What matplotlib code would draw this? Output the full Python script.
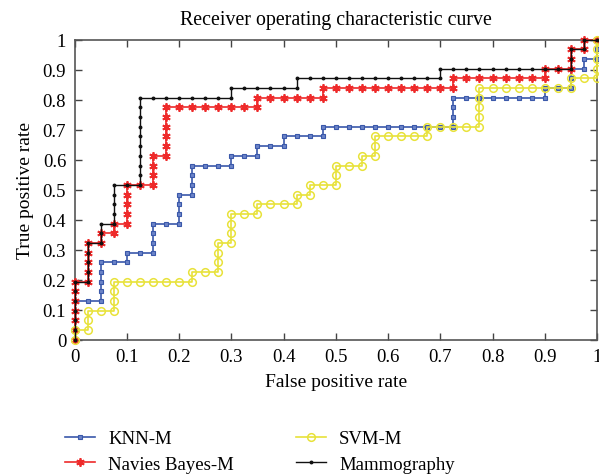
import matplotlib
matplotlib.use("Agg")
import matplotlib.pyplot as plt

# ROC points as (false-positive count, true-positive count); 40 negatives, 31 positives
N_NEG = 40
N_POS = 31

knn_pts = [(0,0),(0,1),(0,2),(0,3),(0,4),
           (1,4),(2,4),(2,5),(2,6),(2,7),(2,8),
           (3,8),(4,8),(4,9),
           (5,9),(6,9),(6,10),(6,11),(6,12),
           (7,12),(8,12),(8,13),(8,14),(8,15),
           (9,15),(9,16),(9,17),(9,18),
           (10,18),(11,18),(12,18),(12,19),
           (13,19),(14,19),(14,20),
           (15,20),(16,20),(16,21),
           (17,21),(18,21),(19,21),(19,22),
           (20,22),(21,22),(22,22),(23,22),(24,22),(25,22),(26,22),(27,22),(28,22),(29,22),
           (29,23),(29,24),(29,25),
           (30,25),(31,25),(32,25),(33,25),(34,25),(35,25),(36,25),
           (36,26),(37,26),(38,26),(38,27),(38,28),
           (39,28),(39,29),(40,29),(40,30),(40,31)]

nb_pts = [(0,0),(0,1),(0,2),(0,3),(0,4),(0,5),(0,6),
          (1,6),(1,7),(1,8),(1,9),(1,10),
          (2,10),(2,11),
          (3,11),(3,12),
          (4,12),(4,13),(4,14),(4,15),(4,16),
          (5,16),(6,16),(6,17),(6,18),(6,19),
          (7,19),(7,20),(7,21),(7,22),(7,23),(7,24),
          (8,24),(9,24),(10,24),(11,24),(12,24),(13,24),(14,24),(14,25),
          (15,25),(16,25),(17,25),(18,25),(19,25),(19,26),
          (20,26),(21,26),(22,26),(23,26),(24,26),(25,26),(26,26),(27,26),(28,26),(29,26),(29,27),
          (30,27),(31,27),(32,27),(33,27),(34,27),(35,27),(36,27),(36,28),
          (37,28),(38,28),(38,29),(38,30),
          (39,30),(39,31),(40,31)]

svm_pts = [(0,0),(0,1),
           (1,1),(1,2),(1,3),
           (2,3),(3,3),(3,4),(3,5),(3,6),
           (4,6),(5,6),(6,6),(7,6),(8,6),(9,6),(9,7),
           (10,7),(11,7),(11,8),(11,9),(11,10),
           (12,10),(12,11),(12,12),(12,13),
           (13,13),(14,13),(14,14),
           (15,14),(16,14),(17,14),(17,15),
           (18,15),(18,16),
           (19,16),(20,16),(20,17),(20,18),
           (21,18),(22,18),(22,19),
           (23,19),(23,20),(23,21),
           (24,21),(25,21),(26,21),(27,21),(27,22),
           (28,22),(29,22),(30,22),(31,22),(31,23),(31,24),(31,25),(31,26),
           (32,26),(33,26),(34,26),(35,26),(36,26),(37,26),(38,26),(38,27),
           (39,27),(40,27),(40,28),(40,29),(40,30),(40,31)]

mammo_pts = [(0,0),(0,1),(0,2),(0,3),(0,4),(0,5),(0,6),
             (1,6),(1,7),(1,8),(1,9),(1,10),
             (2,10),(2,11),(2,12),
             (3,12),(3,13),(3,14),(3,15),(3,16),
             (4,16),(5,16),(5,17),(5,18),(5,19),(5,20),(5,21),(5,22),(5,23),(5,24),(5,25),
             (6,25),(7,25),(8,25),(9,25),(10,25),(11,25),(12,25),(12,26),
             (13,26),(14,26),(15,26),(16,26),(17,26),(17,27),
             (18,27),(19,27),(20,27),(21,27),(22,27),(23,27),(24,27),(25,27),(26,27),(27,27),(28,27),(28,28),
             (29,28),(30,28),(31,28),(32,28),(33,28),(34,28),(35,28),(36,28),(37,28),(38,28),(38,29),(38,30),
             (39,30),(39,31),(40,31)]

labels = ["KNN-M", "Navies Bayes-M", "SVM-M", "Mammography"]
x_ticks = [0, 0.1, 0.2, 0.3, 0.4, 0.5, 0.6, 0.7, 0.8, 0.9, 1]
y_ticks = [0, 0.1, 0.2, 0.3, 0.4, 0.5, 0.6, 0.7, 0.8, 0.9, 1]
tick_labels = ["0", "0.1", "0.2", "0.3", "0.4", "0.5", "0.6", "0.7", "0.8", "0.9", "1"]

plt.rcParams['font.family'] = ['Liberation Serif', 'DejaVu Serif']

fig = plt.figure(figsize=(5.99, 4.77), dpi=100)
ax = fig.add_axes([0.1244, 0.2857, 0.8723, 0.629])

def xy(pts):
    return [p[0] / N_NEG for p in pts], [p[1] / N_POS for p in pts]

blue = '#3a58aa'
red = '#ee2a2a'
yellow = '#e8e23a'
black = '#111111'

x, y = xy(knn_pts)
l1, = ax.plot(x, y, color=blue, lw=1.2, marker='s', ms=3, mfc='#6c84c8', mec=blue, mew=0.8, label=labels[0], clip_on=False, zorder=3)
x, y = xy(nb_pts)
l2, = ax.plot(x, y, color=red, lw=1.2, marker=(6, 2, 0), ms=6, mec=red, mew=1.3, label=labels[1], clip_on=False, zorder=4)
x, y = xy(svm_pts)
l3, = ax.plot(x, y, color=yellow, lw=1.2, marker='o', ms=5.5, mfc='none', mec=yellow, mew=1.1, label=labels[2], clip_on=False, zorder=5)
x, y = xy(mammo_pts)
l4, = ax.plot(x, y, color=black, lw=1.0, marker='o', ms=1.8, mfc=black, mec=black, label=labels[3], clip_on=False, zorder=6)

ax.set_xlim(0, 1)
ax.set_ylim(0, 1)
ax.set_xticks(x_ticks)
ax.set_xticklabels(tick_labels)
ax.set_yticks(y_ticks)
ax.set_yticklabels(tick_labels)
ax.tick_params(direction='in', length=5, width=1, color='#444444', labelsize=13.5,
               top=True, right=True, pad=6)
for s in ax.spines.values():
    s.set_color('#555555')
    s.set_linewidth(1.2)

ax.set_title("Receiver operating characteristic curve", fontsize=14.3, pad=11)
ax.set_xlabel("False positive rate", fontsize=14, labelpad=6)
ax.set_ylabel("True positive rate", fontsize=14, labelpad=6)

legkw = dict(frameon=False, fontsize=13.5, handlelength=1.6, handletextpad=0.7,
             labelspacing=0.45, borderpad=0, borderaxespad=0, loc='upper left')
leg1 = fig.legend(handles=[l1, l2], bbox_to_anchor=(65/599, 1 - 431/477), **legkw)
leg2 = fig.legend(handles=[l3, l4], bbox_to_anchor=(296/599, 1 - 431/477), **legkw)

fig.savefig("out.png", dpi=100)
